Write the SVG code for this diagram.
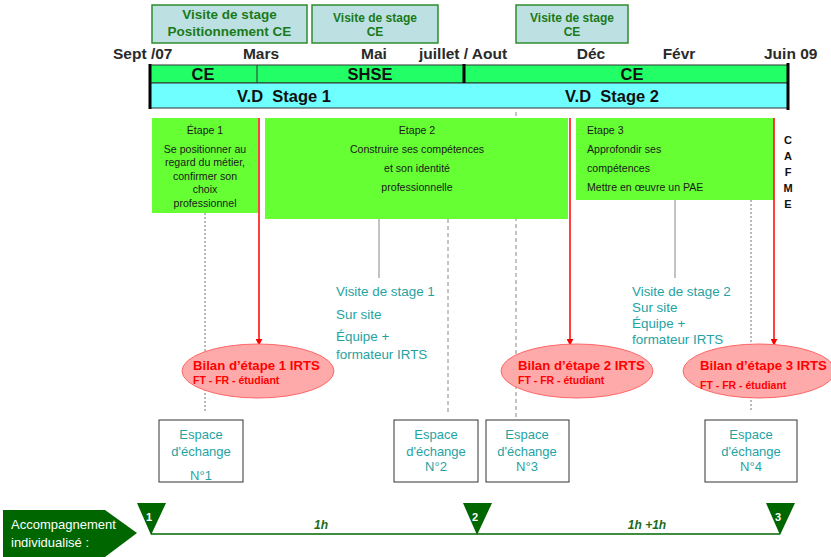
<svg xmlns="http://www.w3.org/2000/svg" width="831" height="557" viewBox="0 0 831 557">
<defs>
<style>
text{font-family:"Liberation Sans",Arial,sans-serif}
.vbox{fill:#bde0e2;stroke:#2e8b2e;stroke-width:1.5}
.vt{font-size:12px;font-weight:bold;fill:#1a7a1a;text-anchor:middle}
.vt1{font-size:13.5px;font-weight:bold;fill:#1a7a1a;text-anchor:middle}
.mon{font-size:15.5px;font-weight:bold;fill:#2a2a2a}
.bt{font-size:16.5px;font-weight:bold;fill:#111;text-anchor:middle;white-space:pre}
.et{fill:#66ff33}
.etx{font-size:10.6px;fill:#1a1a1a}
.cf{font-size:11px;font-weight:bold;fill:#111;text-anchor:middle}
.red{stroke:#ff0000;stroke-width:1.5;fill:none}
.ell{fill:#ffaaaa;stroke:#ff6666;stroke-width:1}
.bil{font-size:13.2px;font-weight:bold;fill:#ff0000}
.bsub{font-size:10.5px;font-weight:bold;fill:#ff0000}
.vis{font-size:13.4px;fill:#1fa3a3}
.esp{fill:#fff;stroke:#333;stroke-width:1}
.est{font-size:13px;fill:#1fa3a3;text-anchor:middle}
.gs{stroke:#888;stroke-width:1}
.gd{stroke:#888;stroke-width:1;stroke-dasharray:4,3}
.gdot{stroke:#777;stroke-width:1;stroke-dasharray:2,2}
.dg{fill:#006600}
.num{font-size:11px;font-weight:bold;fill:#fff}
.hr{font-size:12px;font-weight:bold;font-style:italic;fill:#1a6b1a;text-anchor:middle}
</style>
<marker id="ar" viewBox="0 0 10 10" refX="9" refY="5" markerWidth="7" markerHeight="7" orient="auto" markerUnits="userSpaceOnUse"><path d="M0,0 L10,5 L0,10 z" fill="#ff0000"/></marker>
</defs>

<g id="connectors">
<line class="gdot" x1="205" y1="213" x2="205" y2="412"/>
<line class="gs" x1="379" y1="219" x2="379" y2="278"/>
<line class="gd" x1="448" y1="219" x2="448" y2="413"/>
<line class="gd" x1="516" y1="112" x2="516" y2="420"/>
<line class="gs" x1="675" y1="200" x2="675" y2="278"/>
<line class="gdot" x1="751" y1="200" x2="751" y2="412"/>
</g>

<g id="visite1"><rect class="vbox" x="152" y="5" width="155" height="38"/><text class="vt1" x="229.5" y="19">Visite de stage</text><text class="vt1" x="229.5" y="36">Positionnement CE</text></g>
<g id="visite2"><rect class="vbox" x="312" y="5" width="126" height="38"/><text class="vt" x="375" y="22">Visite de stage</text><text class="vt" x="375" y="36">CE</text></g>
<g id="visite3"><rect class="vbox" x="516" y="5" width="112" height="38"/><text class="vt" x="572" y="22">Visite de stage</text><text class="vt" x="572" y="36">CE</text></g>

<g id="months">
<text class="mon" x="113" y="59">Sept /07</text>
<text class="mon" x="261" y="59" text-anchor="middle">Mars</text>
<text class="mon" x="374" y="59" text-anchor="middle">Mai</text>
<text class="mon" x="419" y="59">juillet / Aout</text>
<text class="mon" x="591" y="59" text-anchor="middle">Déc</text>
<text class="mon" x="679" y="59" text-anchor="middle">Févr</text>
<text class="mon" x="764" y="59">Juin 09</text>
</g>

<g id="bars">
<rect x="150" y="65" width="638" height="18" fill="#22ff66" stroke="#333" stroke-width="1"/>
<rect x="150" y="83" width="638" height="25" fill="#6fffff" stroke="#333" stroke-width="1"/>
<line x1="257" y1="65" x2="257" y2="83" stroke="#333" stroke-width="1"/>
<line x1="150" y1="64" x2="150" y2="109" stroke="#000" stroke-width="3"/>
<line x1="464" y1="64" x2="464" y2="83" stroke="#000" stroke-width="3"/>
<line x1="788" y1="63" x2="788" y2="110" stroke="#000" stroke-width="3"/>
<text class="bt" x="203" y="80">CE</text>
<text class="bt" x="370" y="80">SHSE</text>
<text class="bt" x="632" y="80">CE</text>
<text class="bt" x="284" y="102">V.D  Stage 1</text>
<text class="bt" x="612" y="102">V.D  Stage 2</text>
</g>

<g id="etape1"><rect class="et" x="152" y="118" width="106" height="95"/>
<text class="etx" x="205" y="134" text-anchor="middle">Étape 1</text>
<text class="etx" x="205" y="153" text-anchor="middle">Se positionner au</text>
<text class="etx" x="205" y="166" text-anchor="middle">regard du métier,</text>
<text class="etx" x="205" y="180" text-anchor="middle">confirmer son</text>
<text class="etx" x="205" y="193" text-anchor="middle">choix</text>
<text class="etx" x="205" y="207" text-anchor="middle">professionnel</text></g>

<g id="etape2"><rect class="et" x="265" y="118" width="303" height="101"/>
<text class="etx" x="417" y="134" text-anchor="middle">Etape 2</text>
<text class="etx" x="417" y="153" text-anchor="middle">Construire ses compétences</text>
<text class="etx" x="417" y="172" text-anchor="middle">et son identité</text>
<text class="etx" x="417" y="191" text-anchor="middle">professionnelle</text></g>

<g id="etape3"><rect class="et" x="576" y="118" width="198" height="82"/>
<text class="etx" x="587" y="134">Etape 3</text>
<text class="etx" x="587" y="153">Approfondir ses</text>
<text class="etx" x="587" y="172">compétences</text>
<text class="etx" x="587" y="191">Mettre en œuvre un PAE</text></g>

<g id="cafme">
<text class="cf" x="788" y="144">C</text>
<text class="cf" x="788" y="160">A</text>
<text class="cf" x="788" y="176">F</text>
<text class="cf" x="788" y="192">M</text>
<text class="cf" x="788" y="208">E</text>
</g>

<g id="redarrows">
<line class="red" x1="259" y1="118" x2="259" y2="345" marker-end="url(#ar)"/>
<line class="red" x1="570" y1="118" x2="570" y2="345" marker-end="url(#ar)"/>
<line class="red" x1="774" y1="118" x2="774" y2="345" marker-end="url(#ar)"/>
</g>

<g id="bilan1"><ellipse class="ell" cx="258" cy="371" rx="76" ry="27"/>
<text class="bil" x="193" y="370">Bilan d’étape 1 IRTS</text>
<text class="bsub" x="193" y="384">FT - FR - étudiant</text></g>
<g id="bilan2"><ellipse class="ell" cx="577" cy="371" rx="76" ry="27"/>
<text class="bil" x="518" y="370">Bilan d’étape 2 IRTS</text>
<text class="bsub" x="518" y="384">FT - FR - étudiant</text></g>
<g id="bilan3"><ellipse class="ell" cx="759" cy="371" rx="76" ry="27"/>
<text class="bil" x="700" y="370">Bilan d’étape 3 IRTS</text>
<text class="bsub" x="700" y="389">FT - FR - étudiant</text></g>

<g id="vs1">
<text class="vis" x="336" y="296">Visite de stage 1</text>
<text class="vis" x="336" y="319">Sur site</text>
<text class="vis" x="336" y="341">Équipe +</text>
<text class="vis" x="336" y="359">formateur IRTS</text>
</g>
<g id="vs2">
<text class="vis" x="632" y="296">Visite de stage 2</text>
<text class="vis" x="632" y="312">Sur site</text>
<text class="vis" x="632" y="328">Équipe +</text>
<text class="vis" x="632" y="344">formateur IRTS</text>
</g>

<g id="espace1"><rect class="esp" x="159" y="420" width="84" height="62"/>
<text class="est" x="201" y="439">Espace</text><text class="est" x="201" y="456">d'échange</text><text class="est" x="201" y="480">N°1</text></g>
<g id="espace2"><rect class="esp" x="394" y="420" width="84" height="62"/>
<text class="est" x="436" y="439">Espace</text><text class="est" x="436" y="456">d'échange</text><text class="est" x="436" y="471">N°2</text></g>
<g id="espace3"><rect class="esp" x="486" y="420" width="83" height="62"/>
<text class="est" x="527" y="439">Espace</text><text class="est" x="527" y="456">d'échange</text><text class="est" x="527" y="471">N°3</text></g>
<g id="espace4"><rect class="esp" x="705" y="420" width="92" height="62"/>
<text class="est" x="751" y="439">Espace</text><text class="est" x="751" y="456">d'échange</text><text class="est" x="751" y="471">N°4</text></g>

<g id="accomp">
<path class="dg" d="M3,510 H105 L137,533 L105,557 H3 Z"/>
<text x="11" y="529" font-size="13" fill="#fff">Accompagnement</text>
<text x="11" y="547" font-size="13" fill="#fff">individualisé :</text>
</g>
<g id="timeline">
<line x1="151" y1="534" x2="780" y2="534" stroke="#006600" stroke-width="1.5"/>
<text class="hr" x="321" y="529">1h</text>
<text class="hr" x="647" y="529">1h +1h</text>
</g>
<g id="m1"><path class="dg" d="M137,503 H166 L151,535 Z"/><text class="num" x="146" y="521">1</text></g>
<g id="m2"><path class="dg" d="M463,503 H492 L477,535 Z"/><text class="num" x="472" y="521">2</text></g>
<g id="m3"><path class="dg" d="M766,503 H795 L780,535 Z"/><text class="num" x="775" y="521">3</text></g>
</svg>
